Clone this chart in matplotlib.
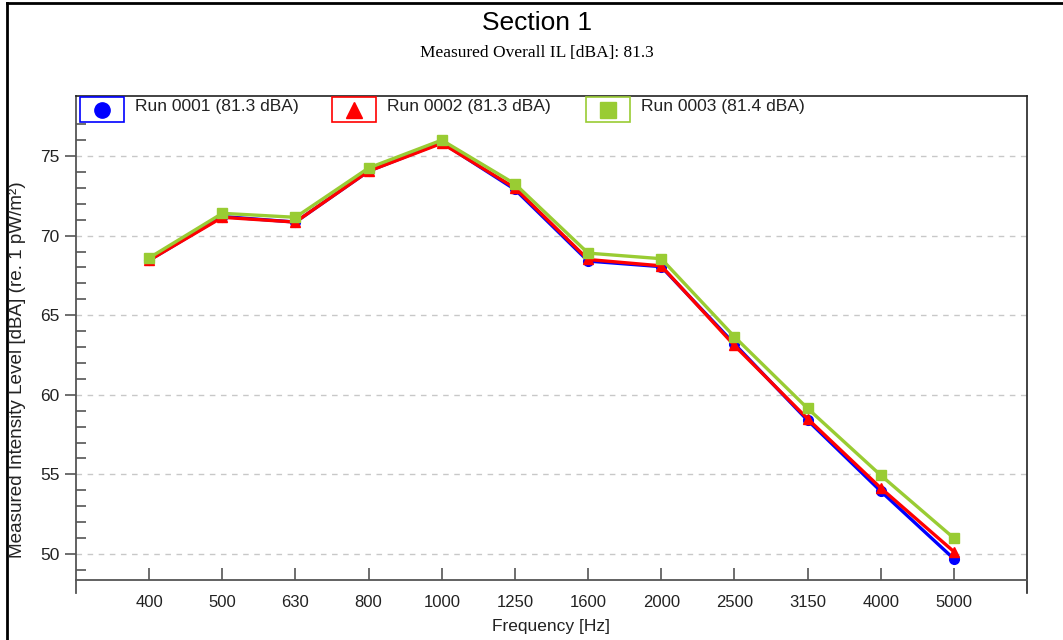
import matplotlib.pyplot as plt
from matplotlib.lines import Line2D
from matplotlib.patches import Rectangle

# one-third octave bands
freqs = ["400", "500", "630", "800", "1000", "1250", "1600", "2000",
         "2500", "3150", "4000", "5000"]

run_0001 = [68.45, 71.2, 70.85, 74.05, 75.85, 72.9, 68.4, 68.05, 63.2, 58.4, 53.95, 49.7]
run_0002 = [68.45, 71.15, 70.85, 74.05, 75.8, 73.0, 68.5, 68.1, 63.1, 58.5, 54.15, 50.15]
run_0003 = [68.6, 71.4, 71.15, 74.25, 76.0, 73.25, 68.9, 68.55, 63.65, 59.15, 54.95, 51.0]

run_names = ["Run 0001", "Run 0002", "Run 0003"]
run_overall = [81.3, 81.3, 81.4]
overall_il = 81.3

colors = ["#0000FF", "#FF0000", "#99CC33"]
markers = ["o", "^", "s"]
sans = "Liberation Sans"

W, H = 1063, 640
fig = plt.figure(figsize=(W / 100, H / 100), dpi=100)


def fx(px):
    return px / W


def fy(py):
    return 1 - py / H


ax = fig.add_axes([fx(76), fy(593), fx(1027) - fx(76), fy(96) - fy(593)])

x = list(range(len(freqs)))
for vals, c, m in zip([run_0001, run_0002, run_0003], colors, markers):
    ax.plot(x, vals, color=c, lw=2.4, marker=m, ms=7, mec=c, mfc=c, zorder=3)

ax.set_xlim(-1, 12)
ax.set_ylim(47.55, 78.77)

# x axis sits a little above the bottom of the frame
ax.spines["bottom"].set_position(("data", 48.37))
for s in ["left", "bottom"]:
    ax.spines[s].set_color("#555555")
    ax.spines[s].set_linewidth(1.3)
for s in ["top", "right"]:
    ax.spines[s].set_color("#222222")
    ax.spines[s].set_linewidth(1.2)

ax.set_xticks(x)
ax.set_xticklabels(freqs, fontfamily=sans, fontsize=12)
ax.tick_params(axis="x", direction="in", length=9, width=1.2, pad=11)

ax.set_yticks([50, 55, 60, 65, 70, 75])
ax.set_yticks(range(49, 78), minor=True)
ax.tick_params(axis="y", which="major", direction="out", length=8, width=1.2,
               pad=4, labelsize=12.5)
ax.tick_params(axis="y", which="minor", direction="in", length=7, width=1.2)
for lab in ax.get_yticklabels():
    lab.set_fontfamily(sans)
ax.tick_params(axis="both", which="both", color="#555555", labelcolor="#222222")

ax.yaxis.grid(True, which="major", color="#C8C8C8", ls=(0, (4, 4)), lw=1)
ax.set_axisbelow(True)

fig.text(fx(18), fy(370), "Measured Intensity Level [dBA] (re. 1 pW/m²)",
         rotation=90, ha="center", va="center", fontfamily=sans, fontsize=13.6,
         color="#222222")
fig.text(fx(537), fy(23), "Section 1", ha="center", va="center",
         fontfamily=sans, fontsize=19)
fig.text(fx(537), fy(53), "Measured Overall IL [dBA]: %.1f" % overall_il,
         ha="center", va="center", fontfamily="Liberation Serif", fontsize=12.5)
fig.text(fx(551), fy(627), "Frequency [Hz]", ha="center", va="center",
         fontfamily=sans, fontsize=12.5, color="#222222")

# legend boxes across the top of the plot
box_left = [80, 332, 586]
for bx, name, ov, c, m in zip(box_left, run_names, run_overall, colors, markers):
    fig.add_artist(Rectangle((fx(bx), fy(122)), fx(44), fy(97) - fy(122),
                             transform=fig.transFigure, fill=False, ec=c, lw=1.2))
    fig.add_artist(Line2D([fx(bx + 22)], [fy(110)], marker=m, ms=11, color=c,
                          transform=fig.transFigure))
    fig.text(fx(bx + 55), fy(107), "%s (%.1f dBA)" % (name, ov), ha="left",
             va="center", fontfamily=sans, fontsize=12.6, color="#222222")

# window border
fig.add_artist(Line2D([fx(7), fx(7)], [0, fy(3)], color="black", lw=2,
                      transform=fig.transFigure))
fig.add_artist(Line2D([fx(7), 1], [fy(3), fy(3)], color="black", lw=2,
                      transform=fig.transFigure))

fig.savefig("out.png", dpi=100)
